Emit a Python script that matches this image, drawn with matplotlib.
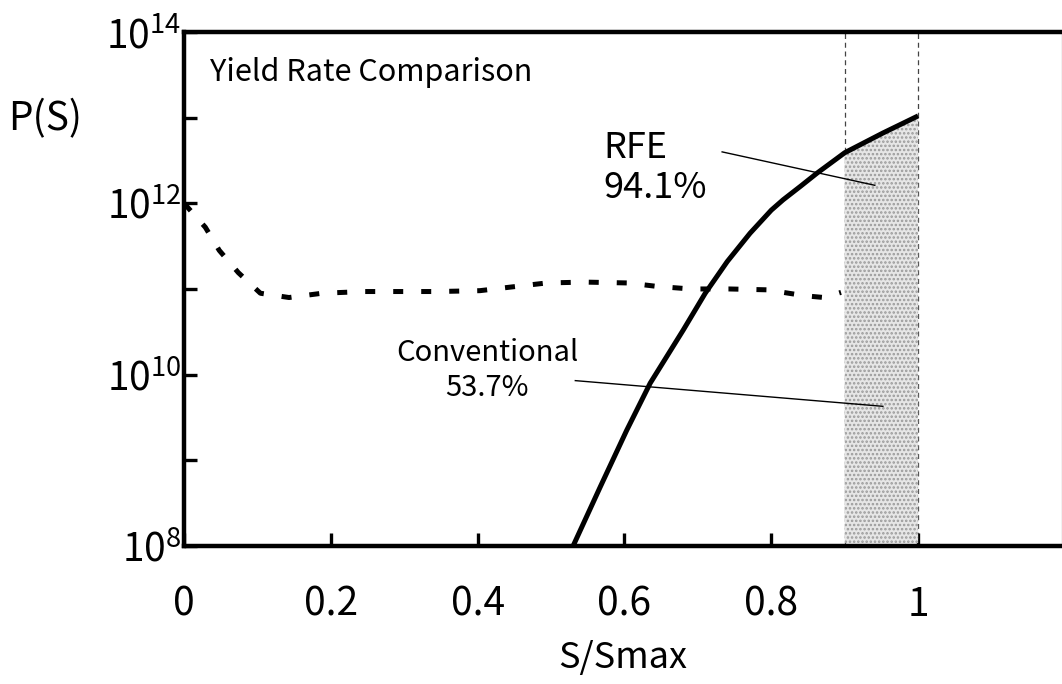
import matplotlib
matplotlib.use("Agg")
import matplotlib.pyplot as plt
from matplotlib.ticker import FixedLocator, FuncFormatter
import numpy as np

plt.rcParams['font.family'] = ['Noto Sans CJK JP', 'DejaVu Sans']
plt.rcParams['hatch.linewidth'] = 1.2
plt.rcParams['hatch.color'] = '#8c8c8c'

# RFE curve (solid), log10 of P(S)
rfe_x = [0.53, 0.567, 0.603, 0.635, 0.68, 0.71, 0.74, 0.771, 0.80, 0.816, 0.84, 0.862, 0.90, 0.952, 1.0]
rfe_log = [8.0, 8.69, 9.35, 9.9, 10.52, 10.95, 11.32, 11.65, 11.92, 12.04, 12.2, 12.35, 12.59, 12.82, 13.02]

# Conventional curve (dashed), log10 of P(S)
conv_x = [0.0, 0.029, 0.048, 0.074, 0.104, 0.143, 0.188, 0.246, 0.30, 0.345, 0.403,
          0.443, 0.494, 0.546, 0.605, 0.644, 0.69, 0.742, 0.794, 0.846, 0.872, 0.895]
conv_log = [12.0, 11.72, 11.45, 11.19, 10.95, 10.9, 10.95, 10.97, 10.97, 10.97, 10.98,
            11.02, 11.07, 11.08, 11.07, 11.03, 11.0, 11.0, 10.99, 10.92, 10.9, 10.96]

x_ticks = [0, 0.2, 0.4, 0.6, 0.8, 1.0]
x_labels = ['0', '0.2', '0.4', '0.6', '0.8', '1']
y_exps = [8, 9, 10, 11, 12, 13, 14]

window = (0.9, 1.0)

rfe_x = np.array(rfe_x)
rfe_y = 10.0 ** np.array(rfe_log)
conv_y = 10.0 ** np.array(conv_log)

fig = plt.figure(figsize=(10.62, 6.84), dpi=100)
ax = fig.add_axes([0.1733, 0.2018, 0.8267, 0.7515])

ax.set_yscale('log')
ax.set_xlim(0, 1.196)
ax.set_ylim(1e8, 1e14)

# shaded window under the RFE curve
for xv in window:
    ax.axvline(xv, color='#444444', lw=0.9, ls=(0, (4, 3)), zorder=1)
m = (rfe_x >= window[0]) & (rfe_x <= window[1])
ax.fill_between(rfe_x[m], 1.08e8, rfe_y[m], facecolor='#e6e6e6', hatch='....',
                edgecolor='#9a9a9a', linewidth=0, zorder=2)

ax.plot(rfe_x, rfe_y, color='black', lw=3.6, zorder=4, solid_capstyle='butt',
        solid_joinstyle='round')
ax.plot(conv_x, conv_y, color='black', lw=3.6, ls=(0, (2.0, 3.6)), zorder=4)

# labels and leader lines
ax.text(0.0296, 0.922, 'Yield Rate Comparison', transform=ax.transAxes,
        fontsize=22, va='center', ha='left')
ax.text(0.571, 10 ** 12.41, 'RFE\n94.1%', fontsize=26, va='center', ha='left',
        linespacing=1.15)
ax.plot([0.733, 0.941], [10 ** 12.6, 10 ** 12.21], color='black', lw=1.0, zorder=5)
ax.text(0.413, 10 ** 10.05, 'Conventional\n53.7%', fontsize=21, va='center',
        ha='center', linespacing=1.2)
ax.plot([0.533, 0.952], [10 ** 9.93, 10 ** 9.63], color='black', lw=1.0, zorder=5)

# axes styling
for side in ['left', 'bottom', 'top']:
    ax.spines[side].set_linewidth(3.2)
ax.spines['right'].set_linewidth(1.0)
ax.spines['right'].set_color('#bbbbbb')

ax.xaxis.set_major_locator(FixedLocator(x_ticks))
ax.set_xticklabels(x_labels)
ax.yaxis.set_major_locator(FixedLocator([10.0 ** e for e in y_exps]))
ax.yaxis.set_minor_locator(FixedLocator([]))
ax.yaxis.set_major_formatter(FuncFormatter(
    lambda v, p: r'$\mathregular{10^{%d}}$' % round(np.log10(v)) if round(np.log10(v)) % 2 == 0 else ''))
ax.tick_params(axis='both', which='major', direction='in', length=9.5, width=2.4,
               labelsize=28, top=False, right=False)
ax.tick_params(axis='x', pad=28)
ax.tick_params(axis='y', pad=2)

ax.set_xlabel('S/Smax', fontsize=26, labelpad=11)
fig.text(0.008, 0.825, 'P(S)', fontsize=28, va='center', ha='left')

fig.savefig('out.png', dpi=100)
